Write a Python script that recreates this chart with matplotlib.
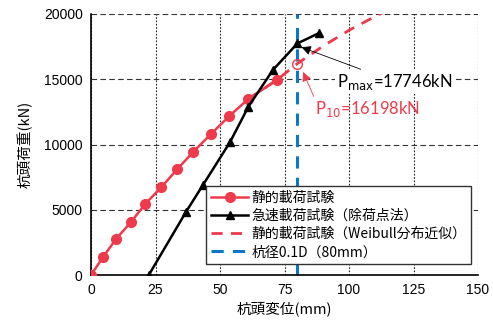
import matplotlib
matplotlib.use("Agg")
from matplotlib import pyplot as plt

plt.rcParams["font.family"] = ["Liberation Sans", "Noto Sans CJK JP", "DejaVu Sans"]

# static load test (red circles)
static_x = [0, 4.7, 9.7, 15.5, 21.0, 27.3, 33.5, 39.6, 46.5, 53.6, 61.0, 72.0]
static_y = [0, 1380, 2760, 4060, 5440, 6740, 8120, 9430, 10800, 12180, 13490, 14940]

# rapid load test, unloading point method (black triangles)
rapid_x = [22.4, 36.8, 43.4, 53.9, 61.0, 70.5, 80.0, 88.4]
rapid_y = [0, 4830, 6900, 10190, 12900, 15710, 17746, 18540]

# Weibull approximation of static test
weib_x = [61, 72, 80, 90, 100, 110, 115]
weib_y = [13490, 14940, 16198, 17550, 18750, 19800, 20300]

d_limit = 80  # 0.1D
p10 = 16198
pmax = 17746

red = "#EE3A4B"
blue = "#0A78C8"
jp = ["Noto Sans CJK JP", "DejaVu Sans"]

fig = plt.figure(figsize=(4.93, 3.24), dpi=100)
ax = fig.add_axes([0.1846, 0.1512, 0.785, 0.8056])

ax.plot(weib_x, weib_y, color=red, lw=2, ls=(0, (4, 3)),
        label="静的載荷試験（Weibull分布近似）", zorder=3)
ax.axvline(d_limit, color=blue, lw=2.2, ls=(0, (4, 3)),
           label="杭径0.1D（80mm）", zorder=2)
ax.plot(static_x, static_y, color=red, lw=1.8, marker="o", ms=7,
        label="静的載荷試験", zorder=4)
ax.plot(rapid_x, rapid_y, color="black", lw=1.8, marker="^", ms=6,
        label="急速載荷試験（除荷点法）", zorder=5)
ax.plot([d_limit], [p10], marker="o", ms=7, mfc="none", mec=red, mew=1, zorder=6)

ax.set_xlim(0, 150)
ax.set_ylim(0, 20000)
ax.set_xticks([0, 25, 50, 75, 100, 125, 150])
ax.set_yticks([0, 5000, 10000, 15000, 20000])
ax.tick_params(length=0, labelsize=10, pad=6)

ax.xaxis.grid(True, color="#222222", lw=0.8, ls=(0, (1.5, 1.5)))
ax.yaxis.grid(True, color="#333333", lw=0.8, ls=(0, (5, 3)))
ax.set_axisbelow(True)
for s in ["top", "right"]:
    ax.spines[s].set_visible(False)
for s in ["left", "bottom"]:
    ax.spines[s].set_linewidth(1.2)

ax.set_xlabel("杭頭変位(mm)", fontsize=10.5, family=jp, labelpad=3)
ax.set_ylabel("杭頭荷重(kN)", fontsize=10.5, family=jp, labelpad=8)

ax.annotate(r"P$_{\rm max}$=17746kN", xy=(81.6, 17450), xytext=(95.3, 14800),
            fontsize=12, family="Lato", color="black", va="center", ha="left",
            bbox=dict(boxstyle="square,pad=0.1", fc="white", ec="none"),
            arrowprops=dict(arrowstyle="-|>", color="black", lw=0.6,
                            shrinkA=2, shrinkB=0, mutation_scale=14),
            zorder=7)
ax.annotate(r"P$_{10}$=16198kN", xy=(82.2, 15560), xytext=(86.8, 12700),
            fontsize=12, family="Lato", color=red, va="center", ha="left",
            arrowprops=dict(arrowstyle="-|>", color=red, lw=0.6,
                            shrinkA=0, shrinkB=0, mutation_scale=14,
                            relpos=(0.0, 1.0)),
            zorder=7)

h, l = ax.get_legend_handles_labels()
order = [2, 3, 0, 1]
leg = ax.legend([h[i] for i in order], [l[i] for i in order], loc="lower right",
                bbox_to_anchor=(1.0, 0.015), fancybox=False, edgecolor="#333333",
                framealpha=1, handlelength=2.7, handletextpad=0.2, labelspacing=0.3,
                borderpad=0.35, prop={"family": jp, "size": 10})
leg.get_frame().set_linewidth(1.0)
leg.set_zorder(10)

fig.savefig("out.png", dpi=100)
